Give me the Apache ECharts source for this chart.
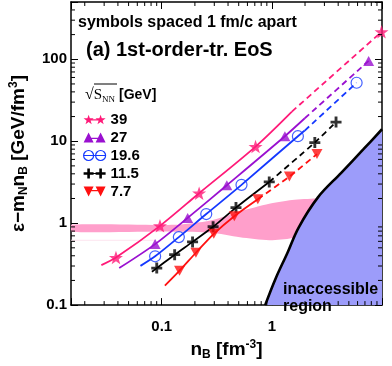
<!DOCTYPE html>
<html><head><meta charset="utf-8">
<script src="https://cdn.jsdelivr.net/npm/echarts@6/dist/echarts.min.js"></script>
<style>html,body{margin:0;padding:0;background:#fff}#c{width:392px;height:366px}</style>
</head><body><div id="c"></div>
<script>
// ---------------- data ----------------
const xTickValues = [0.1, 1];
const xTickLabels = ['0.1', '1'];
const yTickValues = [0.1, 1, 10, 100];
const yTickLabels = ['0.1', '1', '10', '100'];
const xMinorTicks = [0.02,0.03,0.04,0.05,0.06,0.07,0.08,0.09,0.2,0.3,0.4,0.5,0.6,0.7,0.8,0.9,2,3,4,5,6,7,8,9];
const yMinorTicks = [0.2,0.3,0.4,0.5,0.6,0.7,0.8,0.9,2,3,4,5,6,7,8,9,20,30,40,50,60,70,80,90,200,300,400];

const seriesNames = ['39', '27', '19.6', '11.5', '7.7'];

// sqrt(s_NN)=39
const s39SolidX = [0.0283, 0.0384, 0.0964, 0.2185, 0.711, 1.52];
const s39SolidY = [0.307, 0.380, 0.927, 2.32, 8.60, 23.0];
const s39DashX  = [1.52, 9.9];
const s39DashY  = [23.0, 216];
const s39MarkX  = [0.0384, 0.0964, 0.2185, 0.711, 9.9];
const s39MarkY  = [0.380, 0.927, 2.32, 8.60, 216];
// 27
const s27SolidX = [0.0411, 0.0871, 0.172, 0.390, 1.313, 1.99];
const s27SolidY = [0.283, 0.555, 1.16, 2.905, 11.51, 19.06];
const s27DashX  = [1.99, 7.56];
const s27DashY  = [19.06, 95.5];
const s27MarkX  = [0.0871, 0.172, 0.390, 1.313, 7.56];
const s27MarkY  = [0.555, 1.16, 2.905, 11.51, 95.5];
// 19.6
const s196SolidX = [0.0641, 0.0871, 0.143, 0.2536, 0.530, 1.723, 1.99];
const s196SolidY = [0.301, 0.394, 0.676, 1.292, 2.937, 11.51, 13.5];
const s196DashX  = [1.99, 5.88];
const s196DashY  = [13.5, 51.7];
const s196MarkX  = [0.0871, 0.143, 0.2536, 0.530, 1.723, 5.88];
const s196MarkY  = [0.394, 0.676, 1.292, 2.937, 11.51, 51.7];
// 11.5
const s115SolidX = [0.0814, 0.0901, 0.131, 0.1905, 0.2927, 0.4722, 0.9467];
const s115SolidY = [0.256, 0.2827, 0.4125, 0.5907, 0.9027, 1.548, 3.184];
const s115DashX  = [0.9467, 2.455, 3.825];
const s115DashY  = [3.184, 9.63, 17.11];
const s115MarkX  = [0.0901, 0.131, 0.1905, 0.2927, 0.4722, 0.9467, 2.455, 3.825];
const s115MarkY  = [0.2827, 0.4125, 0.5907, 0.9027, 1.548, 3.184, 9.63, 17.11];
// 7.7
const s77SolidX = [0.1068, 0.1451, 0.2042, 0.297, 0.456, 0.7454];
const s77SolidY = [0.1725, 0.2628, 0.4355, 0.741, 1.214, 1.958];
const s77DashX  = [0.7454, 1.443, 2.568];
const s77DashY  = [1.958, 3.703, 6.965];
const s77MarkX  = [0.1451, 0.2042, 0.297, 0.456, 0.7454, 1.443, 2.568];
const s77MarkY  = [0.2628, 0.4355, 0.741, 1.214, 1.958, 3.703, 6.965];

// pink band (phase-coexistence region)
const bandUpperX = [0.015, 0.131, 0.2776, 0.5126, 0.9467, 1.524, 2.542, 3.453];
const bandUpperY = [0.953, 0.953, 1.076, 1.390, 1.725, 1.922, 2.001, 2.01];
const bandLowerX = [0.015, 0.131, 0.2776, 0.5126, 0.9467, 1.524, 2.072];
const bandLowerY = [0.788, 0.788, 0.767, 0.671, 0.618, 0.653, 0.727];
const faintX = [0.015, 0.089];
const faintY = [0.618, 0.618];

// boundary of the inaccessible region
const boundX = [0.869, 1.08, 1.38, 1.75, 2.63, 4.24, 6.82, 10];
const boundY = [0.1, 0.21, 0.43, 0.885, 2.08, 4.09, 8.04, 14.0];

// ---------------- helpers ----------------
const zip = (xs, ys) => xs.map((x, i) => [x, ys[i]]);
function starPath(cx, cy, R, r) {
  let d = '';
  for (let i = 0; i < 10; i++) {
    const a = -Math.PI / 2 + i * Math.PI / 5;
    const rad = i % 2 ? r : R;
    d += (i ? 'L' : 'M') + (cx + rad * Math.cos(a)).toFixed(2) + ',' + (cy + rad * Math.sin(a)).toFixed(2);
  }
  return d + 'Z';
}
const plusPath = (cx, cy, s, w) =>
  `M${cx-w},${cy-s}H${cx+w}V${cy-w}H${cx+s}V${cy+w}H${cx+w}V${cy+s}H${cx-w}V${cy+w}H${cx-s}V${cy-w}H${cx-w}Z`;

const colors = { '39': '#ff1a78', '27': '#9a10d0', '19.6': '#1438ff', '11.5': '#000000', '7.7': '#ff1010' };
const FONT = '"Liberation Sans", Arial, sans-serif';

const markSym = {
  '39':   { symbol: 'path://' + starPath(0, 0, 10, 4), size: [14, 13.5], rotate: 0 },
  '27':   { symbol: 'triangle', size: [11, 10], rotate: 0 },
  '19.6': { symbol: 'circle', size: 11, rotate: 0 },
  '11.5': { symbol: 'path://' + plusPath(0, 0, 5, 1.3), size: 11, rotate: 0 },
  '7.7':  { symbol: 'triangle', size: [11, 10], rotate: 180 }
};

const legendIcons = {
  '39':   'path://' + starPath(5, 5.3, 5.3, 2.1) + starPath(17, 5.3, 5.3, 2.1) + 'M5,4.6H17V5.8H5Z',
  '27':   'path://M5,0L10,10L0,10Z M17,0L22,10L12,10Z M5,5.2H17V6.4H5Z',
  '19.6': 'path://M0,5A5,5,0,1,1,10,5A5,5,0,1,1,0,5Z M12,5A5,5,0,1,1,22,5A5,5,0,1,1,12,5Z M0,5H22',
  '11.5': 'path://' + plusPath(5, 5, 5, 1.3) + plusPath(17, 5, 5, 1.3) + 'M5,4.4H17V5.6H5Z',
  '7.7':  'path://M0,0L10,0L5,10Z M12,0L22,0L17,10Z M5,3.6H17V4.8H5Z'
};

const groups = [
  ['39', s39SolidX, s39SolidY, s39DashX, s39DashY, s39MarkX, s39MarkY],
  ['27', s27SolidX, s27SolidY, s27DashX, s27DashY, s27MarkX, s27MarkY],
  ['19.6', s196SolidX, s196SolidY, s196DashX, s196DashY, s196MarkX, s196MarkY],
  ['11.5', s115SolidX, s115SolidY, s115DashX, s115DashY, s115MarkX, s115MarkY],
  ['7.7', s77SolidX, s77SolidY, s77DashX, s77DashY, s77MarkX, s77MarkY]
];

const series = [];
// pink band
series.push({
  type: 'custom', name: 'band', silent: true, z: 1, clip: true,
  data: [[bandUpperX[0], bandUpperY[0]]],
  renderItem: function (params, api) {
    const pts = [];
    for (let i = 0; i < bandUpperX.length; i++) pts.push(api.coord([bandUpperX[i], bandUpperY[i]]));
    for (let i = bandLowerX.length - 1; i >= 0; i--) pts.push(api.coord([bandLowerX[i], bandLowerY[i]]));
    return { type: 'polygon', shape: { points: pts, smooth: 0.25 }, style: { fill: '#ff9fcb', stroke: null } };
  }
});
series.push({
  type: 'line', name: 'faint', silent: true, z: 1, symbol: 'none',
  data: zip(faintX, faintY), lineStyle: { color: '#fde4ef', width: 1 }
});
// inaccessible region
series.push({
  type: 'line', name: 'region', silent: true, z: 2, symbol: 'none', smooth: 0.35,
  data: zip(boundX, boundY),
  lineStyle: { color: '#000', width: 2.6 },
  areaStyle: { color: '#9c9cfa', opacity: 1, origin: 'start' }
});

groups.forEach(([name, sx, sy, dx, dy, mx, my]) => {
  const c = colors[name];
  const ms = markSym[name];
  series.push({
    type: 'line', name: name, z: 3, symbol: ms.symbol, showSymbol: false, smooth: 0.3,
    data: zip(sx, sy), lineStyle: { color: c, width: 1.8 }, itemStyle: { color: c }
  });
  series.push({
    type: 'line', name: name, z: 3, symbol: 'none', smooth: 0.2,
    data: zip(dx, dy), lineStyle: { color: c, width: 1.8, type: [6, 4] }, itemStyle: { color: c }
  });
  const hollow = name === '19.6';
  series.push({
    type: 'scatter', name: name, z: 4, symbol: ms.symbol, symbolSize: ms.size, symbolRotate: ms.rotate,
    data: zip(mx, my),
    itemStyle: hollow ? { color: 'rgba(0,0,0,0)', borderColor: c, borderWidth: 1.2 } : { color: c }
  });
});

// minor ticks (inside, on all four sides)
series.push({
  type: 'custom', name: 'xminor', silent: true, z: 6,
  data: xMinorTicks.map(v => [v, 1]),
  renderItem: function (params, api) {
    const x = api.coord([api.value(0), 1])[0];
    const cs = params.coordSys;
    const st = { stroke: '#000', lineWidth: 1 };
    return { type: 'group', children: [
      { type: 'line', shape: { x1: x, y1: cs.y + cs.height, x2: x, y2: cs.y + cs.height - 4 }, style: st },
      { type: 'line', shape: { x1: x, y1: cs.y, x2: x, y2: cs.y + 4 }, style: st }
    ]};
  }
});
series.push({
  type: 'custom', name: 'yminor', silent: true, z: 6,
  data: yMinorTicks.map(v => [1, v]),
  renderItem: function (params, api) {
    const y = api.coord([1, api.value(1)])[1];
    const cs = params.coordSys;
    const st = { stroke: '#000', lineWidth: 1 };
    return { type: 'group', children: [
      { type: 'line', shape: { x1: cs.x, y1: y, x2: cs.x + 4, y2: y }, style: st },
      { type: 'line', shape: { x1: cs.x + cs.width, y1: y, x2: cs.x + cs.width - 4, y2: y }, style: st }
    ]};
  }
});

function tickLabel(values, labels) {
  return function (v) {
    for (let i = 0; i < values.length; i++) {
      if (Math.abs(Math.log10(v) - Math.log10(values[i])) < 1e-6) return labels[i];
    }
    return '';
  };
}

const axisLineStyle = { color: '#000', width: 1.5 };
const tickStyle = { show: true, inside: true, length: 7, lineStyle: { color: '#000', width: 1 } };
const richTitle = {
  a: { fontSize: 19, fontWeight: 'bold', fontFamily: FONT, color: '#000', lineHeight: 22 },
  sub: { fontSize: 12, fontWeight: 'bold', fontFamily: FONT, color: '#000', verticalAlign: 'bottom', lineHeight: 22 },
  sup: { fontSize: 12, fontWeight: 'bold', fontFamily: FONT, color: '#000', verticalAlign: 'top', lineHeight: 22 }
};

const option = {
  animation: false,
  backgroundColor: '#fff',
  grid: { left: 64, right: 10, top: 2, bottom: 48, show: false },
  xAxis: [{
    type: 'log', min: 0.015, max: 10, position: 'bottom',
    axisLine: { lineStyle: axisLineStyle }, axisTick: tickStyle, splitLine: { show: false },
    axisLabel: { formatter: tickLabel(xTickValues, xTickLabels), fontSize: 15, fontWeight: 'bold', fontFamily: FONT, color: '#000', margin: 14 },
    name: '{a|n}{sub|B}{a| [fm}{sup|-3}{a|]}', nameLocation: 'middle', nameGap: 31,
    nameTextStyle: { rich: richTitle }
  }, {
    type: 'log', min: 0.015, max: 10, position: 'top',
    axisLine: { lineStyle: axisLineStyle }, axisTick: tickStyle, splitLine: { show: false },
    axisLabel: { show: false }
  }],
  yAxis: [{
    type: 'log', min: 0.1, max: 500, position: 'left',
    axisLine: { lineStyle: axisLineStyle }, axisTick: tickStyle, splitLine: { show: false },
    axisLabel: { formatter: tickLabel(yTickValues, yTickLabels), fontSize: 15, fontWeight: 'bold', fontFamily: FONT, color: '#000', margin: 4 },
    name: '{a|ε−m}{sub|N}{a|n}{sub|B}{a| [GeV/fm}{sup|3}{a|]}', nameLocation: 'middle', nameGap: 41,
    nameTextStyle: { rich: richTitle }
  }, {
    type: 'log', min: 0.1, max: 500, position: 'right',
    axisLine: { lineStyle: axisLineStyle }, axisTick: tickStyle, splitLine: { show: false },
    axisLabel: { show: false }
  }],
  legend: {
    orient: 'vertical', left: 78, top: 107, itemWidth: 22, itemHeight: 10, itemGap: 3,
    selectedMode: false,
    textStyle: { fontSize: 15, fontWeight: 'bold', fontFamily: FONT, color: '#000', lineHeight: 15 },
    data: seriesNames.map(n => ({
      name: n, icon: legendIcons[n],
      itemStyle: n === '19.6' ? { color: 'rgba(0,0,0,0)', borderColor: colors[n], borderWidth: 1.2 } : { color: colors[n], borderWidth: 0 }
    }))
  },
  graphic: [
    { type: 'text', x: 78, y: 23, z: 10, style: { text: 'symbols spaced 1 fm/c apart', font: 'bold 16px ' + FONT, fill: '#000', textVerticalAlign: 'middle' } },
    { type: 'text', x: 86, y: 50, z: 10, style: { text: '(a) 1st-order-tr. EoS', font: 'bold 20px ' + FONT, fill: '#000', textVerticalAlign: 'middle' } },
    { type: 'text', x: 85, y: 95, z: 10, style: {
        text: '{r|√}{s|S}{n|NN}{g| [GeV]}', textVerticalAlign: 'middle',
        rich: {
          r: { font: '16px "Liberation Serif", serif', fill: '#000', lineHeight: 18 },
          s: { font: '15px "Liberation Serif", serif', fill: '#000', lineHeight: 18 },
          n: { font: '9px "Liberation Serif", serif', fill: '#000', verticalAlign: 'bottom', lineHeight: 18 },
          g: { font: 'bold 14px ' + FONT, fill: '#000', lineHeight: 18 }
        } } },
    { type: 'line', z: 10, shape: { x1: 94, y1: 84, x2: 117, y2: 84 }, style: { stroke: '#000', lineWidth: 1 } },
    { type: 'text', x: 283, y: 298, z: 10, style: { text: 'inaccessible\nregion', font: 'bold 16px ' + FONT, fill: '#000', textVerticalAlign: 'middle', lineHeight: 17.5 } }
  ],
  series: series
};

const chart = echarts.init(document.getElementById('c'), null, { renderer: 'canvas' });
chart.setOption(option);
</script>
</body></html>
